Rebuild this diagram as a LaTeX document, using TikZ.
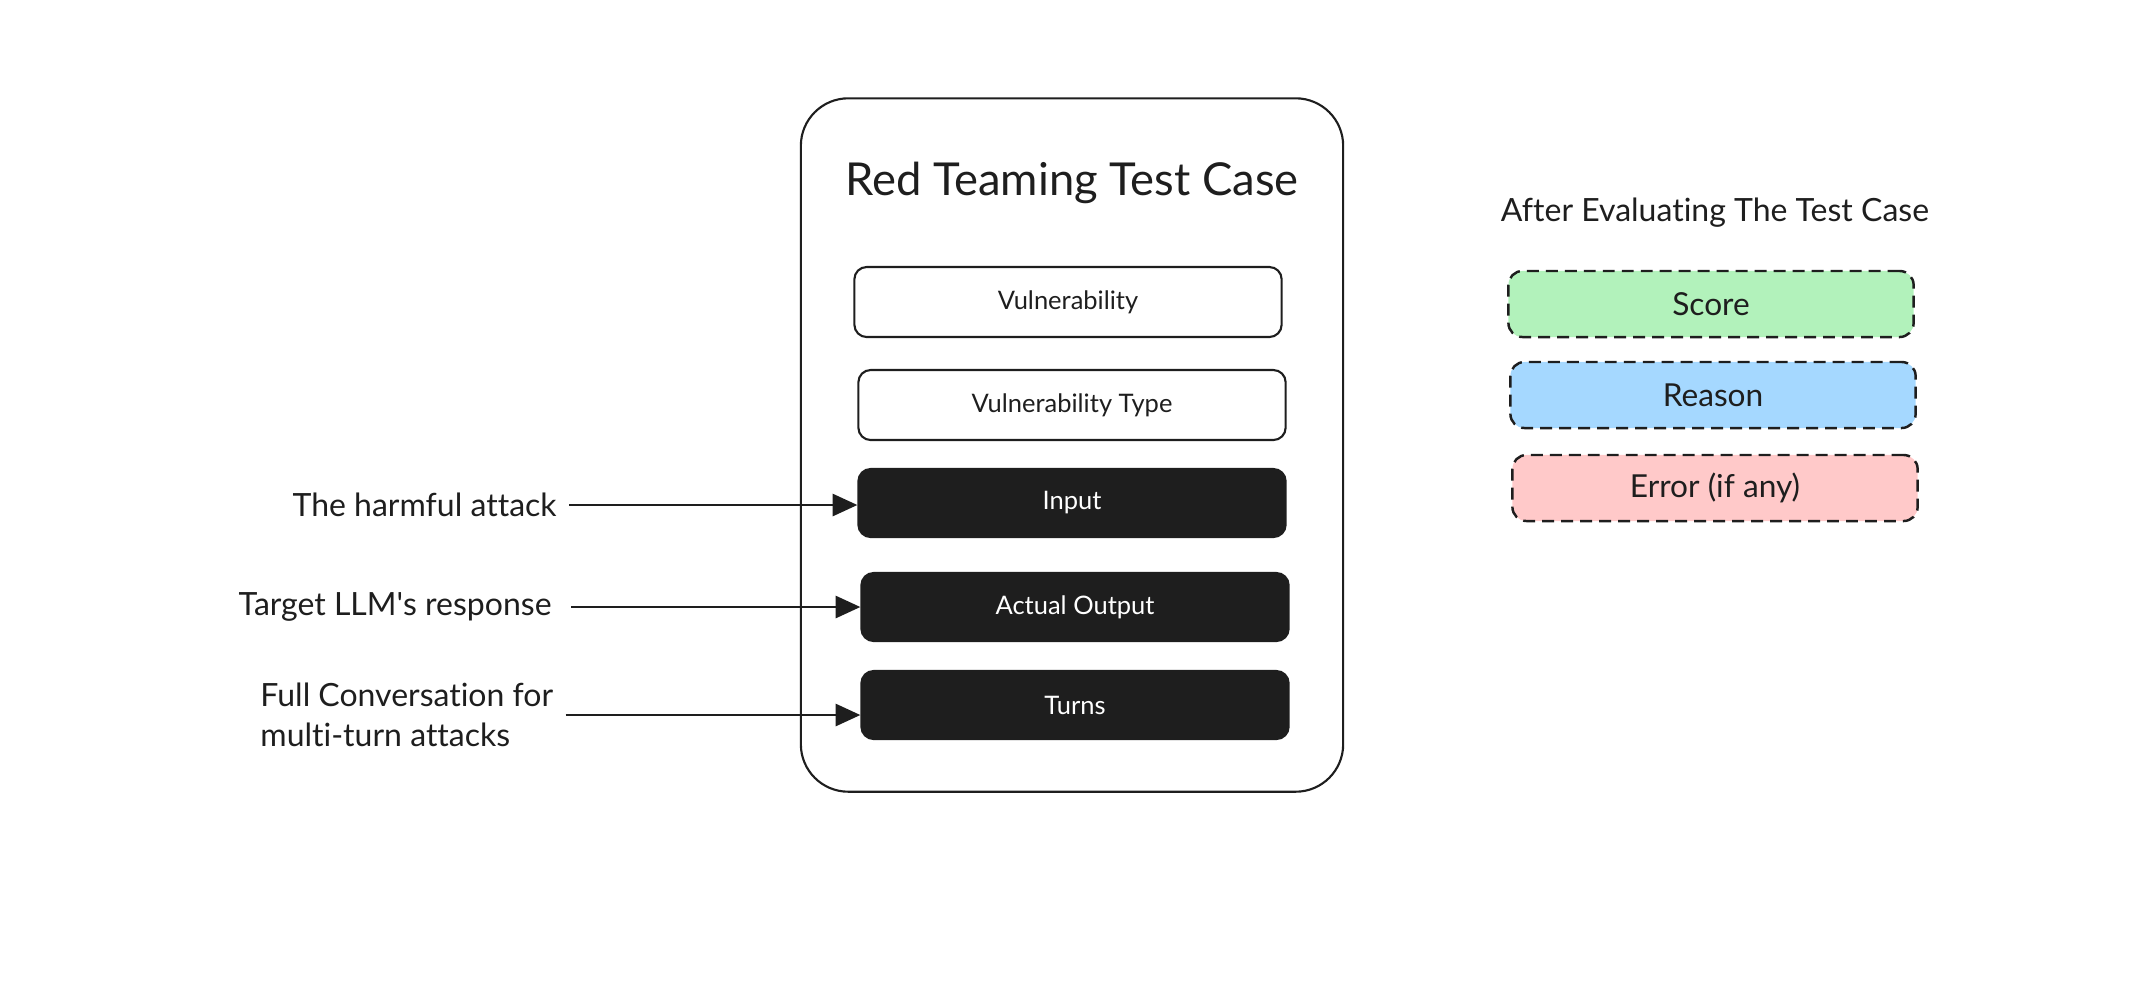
\documentclass[tikz,border=0pt]{standalone}
\usepackage{fontspec}
\setmainfont{Lato}[Ligatures={NoCommon}]
\usetikzlibrary{arrows.meta}
\definecolor{ink}{HTML}{1E1E1E}
\definecolor{scorefill}{HTML}{B2F2BB}
\definecolor{reasonfill}{HTML}{A5D8FF}
\definecolor{errorfill}{HTML}{FFC9C9}
\begin{document}
\begin{tikzpicture}[x=0.01cm, y=-0.01cm,
    card/.style = {draw=ink, line width=0.6pt, rounded corners=13.5pt,
        minimum width=5.42cm, minimum height=6.93cm},
    field/.style = {draw=ink, line width=0.6pt, rounded corners=3.5pt,
        minimum width=4.27cm, minimum height=0.70cm, text=ink,
        font=\fontsize{7.25}{8}\selectfont},
    darkfield/.style = {field, fill=ink, text=white, minimum height=0.68cm},
    result/.style = {draw=ink, line width=0.7pt, dash pattern=on 3.4pt off 2pt,
        rounded corners=4pt, minimum width=4.05cm, minimum height=0.66cm,
        text=ink, font=\fontsize{9}{10}\selectfont},
    note/.style = {text=ink, font=\fontsize{9.1}{11.4}\selectfont},
    feed/.style = {draw=ink, line width=0.6pt, -{Triangle[length=7pt, width=6.3pt]}}]
    \useasboundingbox (0,0) rectangle (2146,984);

    % test case card
    \node[card] (case) at (1072,445) {};
    \node[text=ink, font=\fontsize{12.9}{14}\selectfont] (title) at (1072,183) {Red Teaming Test Case};

    \node[field] (vuln) at (1068,302) {Vulnerability};
    \node[field] (vtype) at (1072,405) {Vulnerability Type};
    \node[darkfield] (input) at (1072,503) {Input};
    \node[darkfield] (output) at (1075,607) {Actual Output};
    \node[darkfield] (turns) at (1075,705) {Turns};

    % what goes in
    \node[note, anchor=east] (attack) at (569,505) {The harmful attack};
    \node[note, anchor=east] (response) at (564,607) {Target LLM\textquotesingle s response};
    \node[note, anchor=west, align=left] (convo) at (248,715) {Full Conversation for\\multi-turn attacks};

    \draw[feed] (attack.east) -- (attack.east -| input.west);
    \draw[feed] ([xshift=2pt]response.east) -- (response.east -| output.west);
    \draw[feed] (convo.east) -- (convo.east -| turns.west);

    % what comes out
    \node[note] (after) at (1715,213) {After Evaluating The Test Case};
    \node[result, fill=scorefill] (score) at (1711,304) {Score};
    \node[result, fill=reasonfill] (reason) at (1713,395) {Reason};
    \node[result, fill=errorfill] (error) at (1715,488) {Error (if any)};
\end{tikzpicture}
\end{document}
